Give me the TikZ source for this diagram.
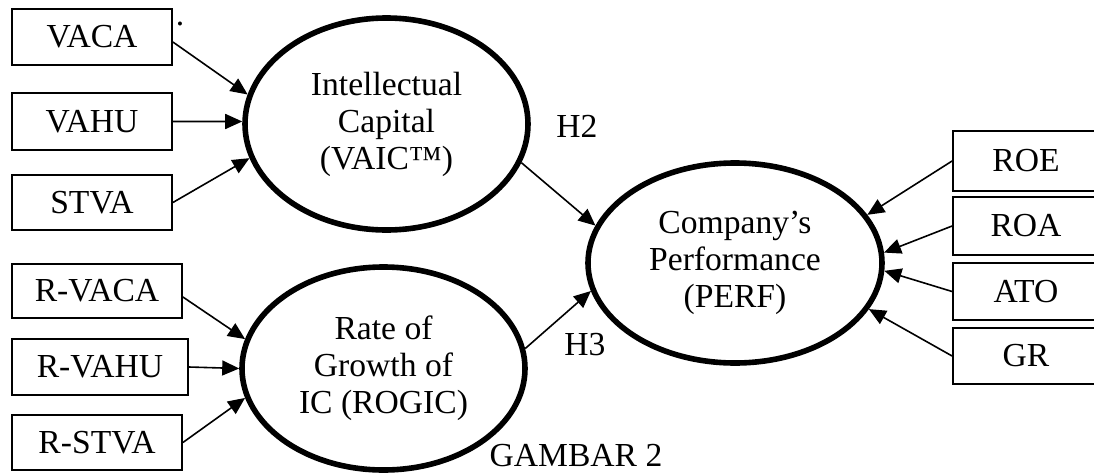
\documentclass[tikz,border=0pt]{standalone}
\usepackage{fontspec}
\setmainfont{Liberation Serif}
\usetikzlibrary{shapes.geometric,arrows.meta}

\tikzset{
	indbox/.style={draw,line width=0.9pt,rectangle,inner sep=0pt},
	latent/.style={draw,ellipse,line width=2.8pt,inner sep=0pt,align=center},
	arr/.style={-{Triangle[length=8.5pt,width=7.5pt]},line width=0.8pt},
}

\begin{document}
\begin{tikzpicture}[x=0.5pt,y=-0.5pt,font=\fontsize{16.8}{18.5}\selectfont]
	\useasboundingbox (0,0) rectangle (1094,472);
	\clip (0,0) rectangle (1094,472);
	
	% latent variables
	\node[latent,minimum width=141.5pt,minimum height=106pt] (ic) at (386.5,124) {Intellectual\\Capital\\(VAIC™)};
	\node[latent,minimum width=141.5pt,minimum height=101.5pt] (rogic) at (383.5,368.5) {Rate of\\Growth of\\IC (ROGIC)};
	\node[latent,minimum width=147pt,minimum height=100pt] (perf) at (735,263) {Company’s\\Performance\\(PERF)};
	
	% indicators left
	\node[indbox,minimum width=80pt,minimum height=28pt] (vaca) at (92,37) {VACA};
	\node[indbox,minimum width=80pt,minimum height=28.5pt] (vahu) at (92,121.5) {VAHU};
	\node[indbox,minimum width=80pt,minimum height=27.5pt] (stva) at (92,202.5) {STVA};
	\node[indbox,minimum width=85pt,minimum height=27pt] (rvaca) at (97,291) {R-VACA};
	\node[indbox,minimum width=88pt,minimum height=28pt] (rvahu) at (100,367) {R-VAHU};
	\node[indbox,minimum width=85pt,minimum height=27.5pt] (rstva) at (97,442.5) {R-STVA};
	
	% indicators right (cut off by the page edge)
	\node[indbox,minimum width=83pt,minimum height=30pt] (roe) at (1036,161) {\hspace*{-10pt}ROE};
	\node[indbox,minimum width=83pt,minimum height=29pt] (roa) at (1036,226) {\hspace*{-10pt}ROA};
	\node[indbox,minimum width=83pt,minimum height=28.5pt] (ato) at (1036,291.5) {\hspace*{-10pt}ATO};
	\node[indbox,minimum width=83pt,minimum height=28pt] (gr) at (1036,356) {\hspace*{-10pt}GR};
	
	\node[anchor=base] (dot) at (180,25) {.};
	\node (h2) at (577,126) {H2};
	\node (h3) at (585,345) {H3};
	\node (gambar) at (576,456) {GAMBAR 2};
	
	\draw[arr] ([yshift=-2.5pt]vaca.east) -- (ic.168);
	\draw[arr] (vahu.east) -- (ic.179);
	\draw[arr] (stva.east) -- (ic.194);
	\draw[arr] ([yshift=-3pt]rvaca.east) -- (rogic.168);
	\draw[arr] (rvahu.east) -- (rogic.180);
	\draw[arr] (rstva.east) -- (rogic.192);
	
	\draw[arr] (ic.-16) -- (perf.165);
	\draw[arr] (rogic.8) -- (perf.191);
	
	\draw[arr] (roe.west) -- (perf.20);
	\draw[arr] (roa.west) -- (perf.4);
	\draw[arr] (ato.west) -- (perf.-3);
	\draw[arr] (gr.west) -- (perf.-19);
\end{tikzpicture}
\end{document}
